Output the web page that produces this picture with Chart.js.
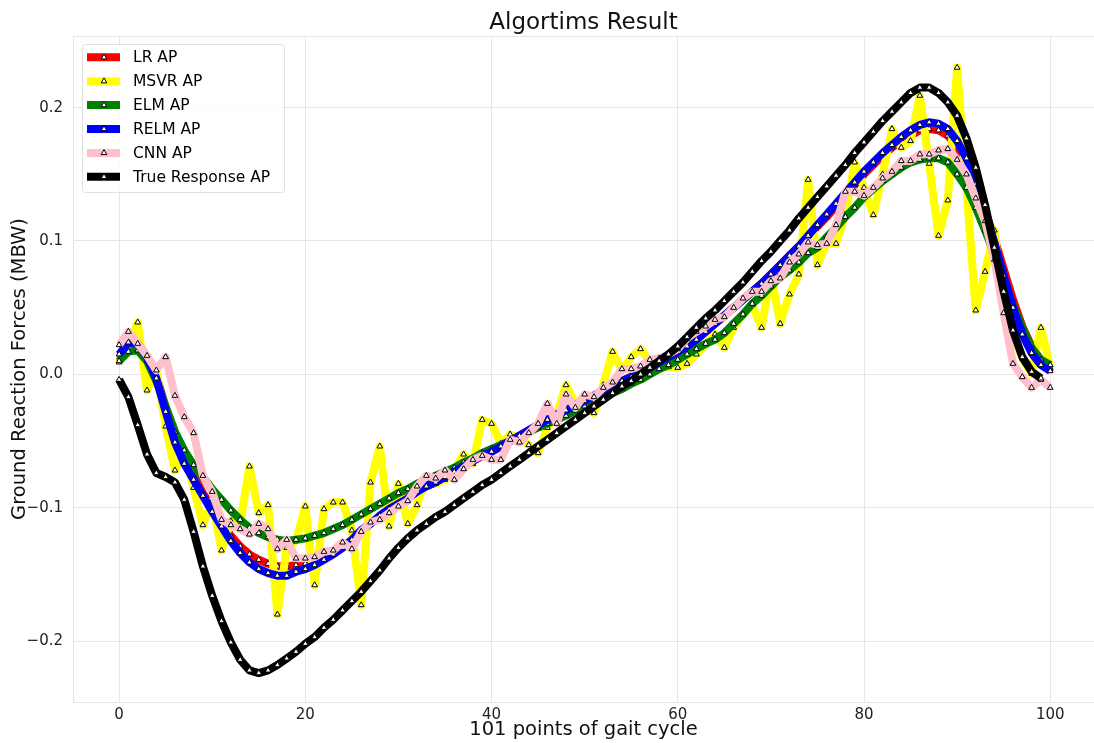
<!DOCTYPE html>
<html>
<head>
<meta charset="utf-8">
<title>Algortims Result</title>
<script src="https://cdn.jsdelivr.net/npm/chart.js@4.4.1/dist/chart.umd.min.js"></script>
<style>
  html, body { margin: 0; padding: 0; background: #fff; }
  #wrap { width: 1094px; height: 743px; }
</style>
</head>
<body>
<div id="wrap"><canvas id="gaitChart" width="1094" height="743"></canvas></div>
<script>
// series values (101 points of gait cycle)
const lrAP = [
  0.012, 0.020, 0.021, 0.013, -0.001, -0.025, -0.048, -0.064, -0.076, -0.089,
  -0.100, -0.111, -0.121, -0.129, -0.135, -0.139, -0.142, -0.144, -0.144, -0.143,
  -0.142, -0.140, -0.137, -0.134, -0.130, -0.124, -0.117, -0.112, -0.106, -0.101,
  -0.097, -0.093, -0.088, -0.084, -0.081, -0.077, -0.073, -0.069, -0.065, -0.061,
  -0.058, -0.054, -0.050, -0.046, -0.042, -0.038, -0.034, -0.030, -0.027, -0.023,
  -0.020, -0.016, -0.012, -0.008, -0.005, -0.002, 0.002, 0.005, 0.009, 0.013,
  0.017, 0.021, 0.026, 0.032, 0.038, 0.044, 0.050, 0.056, 0.062, 0.068,
  0.075, 0.082, 0.089, 0.096, 0.103, 0.111, 0.118, 0.126, 0.134, 0.142,
  0.150, 0.157, 0.164, 0.170, 0.175, 0.179, 0.183, 0.184, 0.183, 0.179,
  0.171, 0.159, 0.142, 0.123, 0.102, 0.079, 0.056, 0.036, 0.021, 0.010, 0.004
];
const msvrAP = [
  0.009, 0.022, 0.039, -0.012, 0.003, -0.039, -0.072, -0.058, -0.085, -0.113,
  -0.095, -0.132, -0.110, -0.112, -0.069, -0.104, -0.098, -0.180, -0.130, -0.125,
  -0.099, -0.158, -0.101, -0.096, -0.096, -0.117, -0.173, -0.081, -0.054, -0.114,
  -0.082, -0.112, -0.098, -0.077, -0.082, -0.079, -0.072, -0.060, -0.067, -0.034,
  -0.037, -0.052, -0.045, -0.048, -0.053, -0.059, -0.040, -0.030, -0.008, -0.022,
  -0.020, -0.029, -0.008, 0.017, 0.003, 0.013, 0.019, 0.010, 0.008, 0.0055,
  0.005, 0.008, 0.015, 0.022, 0.030, 0.020, 0.035, 0.045, 0.052, 0.035,
  0.075, 0.038, 0.060, 0.075, 0.146, 0.082, 0.098, 0.098, 0.120, 0.159,
  0.140, 0.1195, 0.150, 0.184, 0.170, 0.175, 0.209, 0.158, 0.104, 0.1305,
  0.230, 0.140, 0.048, 0.077, 0.108, 0.048, 0.030, 0.012, 0.0005, 0.035, 0.005
];
const elmAP = [
  0.010, 0.017, 0.018, 0.010, -0.005, -0.024, -0.043, -0.057, -0.068, -0.077,
  -0.086, -0.094, -0.102, -0.109, -0.115, -0.119, -0.122, -0.124, -0.125, -0.124,
  -0.123, -0.121, -0.119, -0.116, -0.113, -0.109, -0.105, -0.101, -0.097, -0.093,
  -0.089, -0.086, -0.082, -0.079, -0.076, -0.073, -0.070, -0.066, -0.063, -0.059,
  -0.056, -0.053, -0.050, -0.046, -0.043, -0.040, -0.037, -0.034, -0.031, -0.027,
  -0.024, -0.021, -0.018, -0.014, -0.011, -0.007, -0.004, 0.000, 0.004, 0.007,
  0.011, 0.015, 0.019, 0.023, 0.026, 0.031, 0.038, 0.045, 0.053, 0.059,
  0.066, 0.073, 0.078, 0.084, 0.091, 0.095, 0.103, 0.110, 0.118, 0.125,
  0.133, 0.139, 0.145, 0.150, 0.155, 0.159, 0.161, 0.162, 0.162, 0.159,
  0.150, 0.140, 0.125, 0.108, 0.090, 0.070, 0.052, 0.035, 0.020, 0.011, 0.007
];
const relmAP = [
  0.015, 0.024, 0.023, 0.013, -0.003, -0.028, -0.051, -0.067, -0.079, -0.091,
  -0.103, -0.114, -0.125, -0.134, -0.141, -0.146, -0.149, -0.151, -0.151, -0.148,
  -0.146, -0.143, -0.139, -0.135, -0.130, -0.124, -0.117, -0.112, -0.106, -0.101,
  -0.097, -0.093, -0.088, -0.084, -0.081, -0.077, -0.073, -0.069, -0.065, -0.061,
  -0.058, -0.054, -0.050, -0.046, -0.042, -0.038, -0.034, -0.030, -0.027, -0.023,
  -0.020, -0.016, -0.012, -0.008, -0.005, -0.002, 0.002, 0.005, 0.009, 0.013,
  0.017, 0.021, 0.026, 0.032, 0.038, 0.044, 0.050, 0.056, 0.062, 0.068,
  0.075, 0.082, 0.089, 0.096, 0.104, 0.112, 0.120, 0.128, 0.136, 0.144,
  0.152, 0.159, 0.166, 0.172, 0.178, 0.183, 0.187, 0.189, 0.188, 0.184,
  0.175, 0.162, 0.143, 0.122, 0.099, 0.074, 0.050, 0.030, 0.016, 0.007, 0.0025
];
const cnnAP = [
  0.022, 0.032, 0.023, 0.014, 0.003, 0.013, -0.016, -0.032, -0.044, -0.076,
  -0.088, -0.109, -0.113, -0.116, -0.120, -0.112, -0.116, -0.131, -0.124, -0.138,
  -0.138, -0.137, -0.133, -0.132, -0.126, -0.131, -0.118, -0.111, -0.109, -0.104,
  -0.099, -0.095, -0.084, -0.076, -0.078, -0.072, -0.079, -0.071, -0.064, -0.061,
  -0.064, -0.064, -0.049, -0.051, -0.044, -0.037, -0.022, -0.037, -0.015, -0.025,
  -0.015, -0.017, -0.010, -0.006, 0.004, 0.004, 0.006, 0.011, 0.012, 0.015,
  0.019, 0.027, 0.032, 0.036, 0.041, 0.043, 0.050, 0.057, 0.062, 0.062,
  0.070, 0.072, 0.084, 0.090, 0.099, 0.097, 0.098, 0.112, 0.137, 0.137,
  0.134, 0.140, 0.147, 0.152, 0.160, 0.160, 0.165, 0.165, 0.168, 0.169,
  0.161, 0.150, 0.132, 0.115, 0.086, 0.046, 0.008, -0.002, -0.010, -0.004, -0.010
];
const trueAP = [
  -0.004, -0.017, -0.038, -0.060, -0.074, -0.077, -0.081, -0.094, -0.118, -0.144,
  -0.166, -0.185, -0.201, -0.214, -0.222, -0.224, -0.222, -0.218, -0.213, -0.208,
  -0.202, -0.197, -0.190, -0.184, -0.177, -0.170, -0.163, -0.155, -0.147, -0.138,
  -0.130, -0.123, -0.117, -0.112, -0.107, -0.103, -0.098, -0.093, -0.088, -0.083,
  -0.079, -0.074, -0.069, -0.064, -0.059, -0.054, -0.049, -0.044, -0.039, -0.034,
  -0.029, -0.024, -0.019, -0.014, -0.009, -0.005, 0.000, 0.005, 0.010, 0.015,
  0.021, 0.028, 0.035, 0.042, 0.048, 0.055, 0.062, 0.069, 0.077, 0.085,
  0.092, 0.100, 0.108, 0.117, 0.125, 0.133, 0.141, 0.149, 0.157, 0.166,
  0.174, 0.182, 0.190, 0.197, 0.204, 0.211, 0.215, 0.215, 0.211, 0.204,
  0.194, 0.177, 0.155, 0.127, 0.095, 0.062, 0.033, 0.013, 0.002, -0.003
];

const seriesNames = ["LR AP", "MSVR AP", "ELM AP", "RELM AP", "CNN AP", "True Response AP"];
const seriesColors = ["#ff0000", "#ffff00", "#008000", "#0000ff", "#ffc0cb", "#000000"];
const xTicks = [0, 20, 40, 60, 80, 100];
const yTicks = [-0.2, -0.1, 0.0, 0.1, 0.2];

const FONT = "'DejaVu Sans', sans-serif";
const GRID = "#e6e6e6";

// matplotlib-style legend inside the axes, top left
const innerLegend = {
    id: "innerLegend",
    afterDraw(chart) {
        const ctx = chart.ctx;
        const area = chart.chartArea;
        const x0 = area.left + 9, y0 = area.top + 8, w = 202, h = 148;
        ctx.save();
        ctx.beginPath();
        ctx.roundRect(x0 + 0.5, y0 + 0.5, w, h, 3);
        ctx.fillStyle = "rgba(255,255,255,0.8)";
        ctx.fill();
        ctx.strokeStyle = "#e0e0e0";
        ctx.lineWidth = 1;
        ctx.stroke();
        chart.data.datasets.forEach((ds, i) => {
            const cy = y0 + 13.3 + i * 23.9;
            ctx.beginPath();
            ctx.moveTo(x0 + 5, cy);
            ctx.lineTo(x0 + 38, cy);
            ctx.lineWidth = 8;
            ctx.lineCap = "butt";
            ctx.strokeStyle = ds.borderColor;
            ctx.stroke();
            // triangle marker
            const r = 3.3, cx = x0 + 22;
            ctx.beginPath();
            for (let k = 0; k < 3; k++) {
                const a = k * 2 * Math.PI / 3;
                const px = cx + Math.sin(a) * r, py = cy - Math.cos(a) * r;
                if (k === 0) ctx.moveTo(px, py); else ctx.lineTo(px, py);
            }
            ctx.closePath();
            ctx.fillStyle = "#fff";
            ctx.fill();
            ctx.lineWidth = 1;
            ctx.strokeStyle = "#000";
            ctx.stroke();
            ctx.fillStyle = "#000";
            ctx.font = "15.5px " + FONT;
            ctx.textBaseline = "middle";
            ctx.textAlign = "left";
            ctx.fillText(ds.label, x0 + 51, cy + 1);
        });
        ctx.restore();
    }
};

const allSeries = [lrAP, msvrAP, elmAP, relmAP, cnnAP, trueAP];

const datasets = allSeries.map((vals, i) => ({
    label: seriesNames[i],
    data: vals.map((v, idx) => ({ x: idx, y: v })),
    borderColor: seriesColors[i],
    backgroundColor: seriesColors[i],
    borderWidth: 8,
    tension: 0,
    fill: false,
    borderJoinStyle: "round",
    pointStyle: "triangle",
    pointRadius: 3.3,
    pointBackgroundColor: "#ffffff",
    pointBorderColor: "#000000",
    pointBorderWidth: 1,
    order: allSeries.length - i,
    xAxisID: "x",
    yAxisID: "y"
}));

const ctx = document.getElementById("gaitChart").getContext("2d");

new Chart(ctx, {
    type: "line",
    data: { datasets: datasets },
    plugins: [innerLegend],
    options: {
        responsive: false,
        animation: false,
        layout: { padding: 0, autoPadding: false },
        plugins: {
            legend: { display: false },
            title: { display: false },
            tooltip: { enabled: false }
        },
        scales: {
            x: {
                type: "linear",
                position: "bottom",
                min: -4.95,
                max: 104.7,
                afterBuildTicks: s => { s.ticks = xTicks.map(v => ({ value: v })); },
                afterFit: s => { s.height = 41; },
                grid: { color: GRID, lineWidth: 1, drawTicks: false },
                border: { display: true, color: GRID },
                ticks: {
                    padding: 4,
                    color: "#222",
                    font: { family: FONT, size: 15 },
                    callback: v => String(v)
                },
                title: {
                    display: true,
                    text: "101 points of gait cycle",
                    color: "#111",
                    font: { family: FONT, size: 19.5 },
                    padding: { top: 0, bottom: 1 }
                }
            },
            top: {
                type: "linear",
                position: "top",
                min: -4.95,
                max: 104.7,
                afterFit: s => { s.height = 36; },
                grid: { display: false, drawTicks: false },
                border: { display: true, color: GRID },
                ticks: { display: false },
                title: {
                    display: true,
                    text: "Algortims Result",
                    color: "#111",
                    font: { family: FONT, size: 23 },
                    padding: { top: 9, bottom: 0 }
                }
            },
            y: {
                type: "linear",
                position: "left",
                min: -0.2457,
                max: 0.2537,
                afterBuildTicks: s => { s.ticks = yTicks.map(v => ({ value: v })); },
                afterFit: s => { s.width = 73; },
                grid: { color: GRID, lineWidth: 1, drawTicks: false },
                border: { display: true, color: GRID },
                ticks: {
                    padding: 10,
                    color: "#222",
                    font: { family: FONT, size: 15 },
                    callback: v => v.toFixed(1).replace("-", "\u2212")
                },
                title: {
                    display: true,
                    text: "Ground Reaction Forces (MBW)",
                    color: "#111",
                    font: { family: FONT, size: 19.5 },
                    padding: { top: 8, bottom: 0 }
                }
            }
        }
    }
});
</script>
</body>
</html>
